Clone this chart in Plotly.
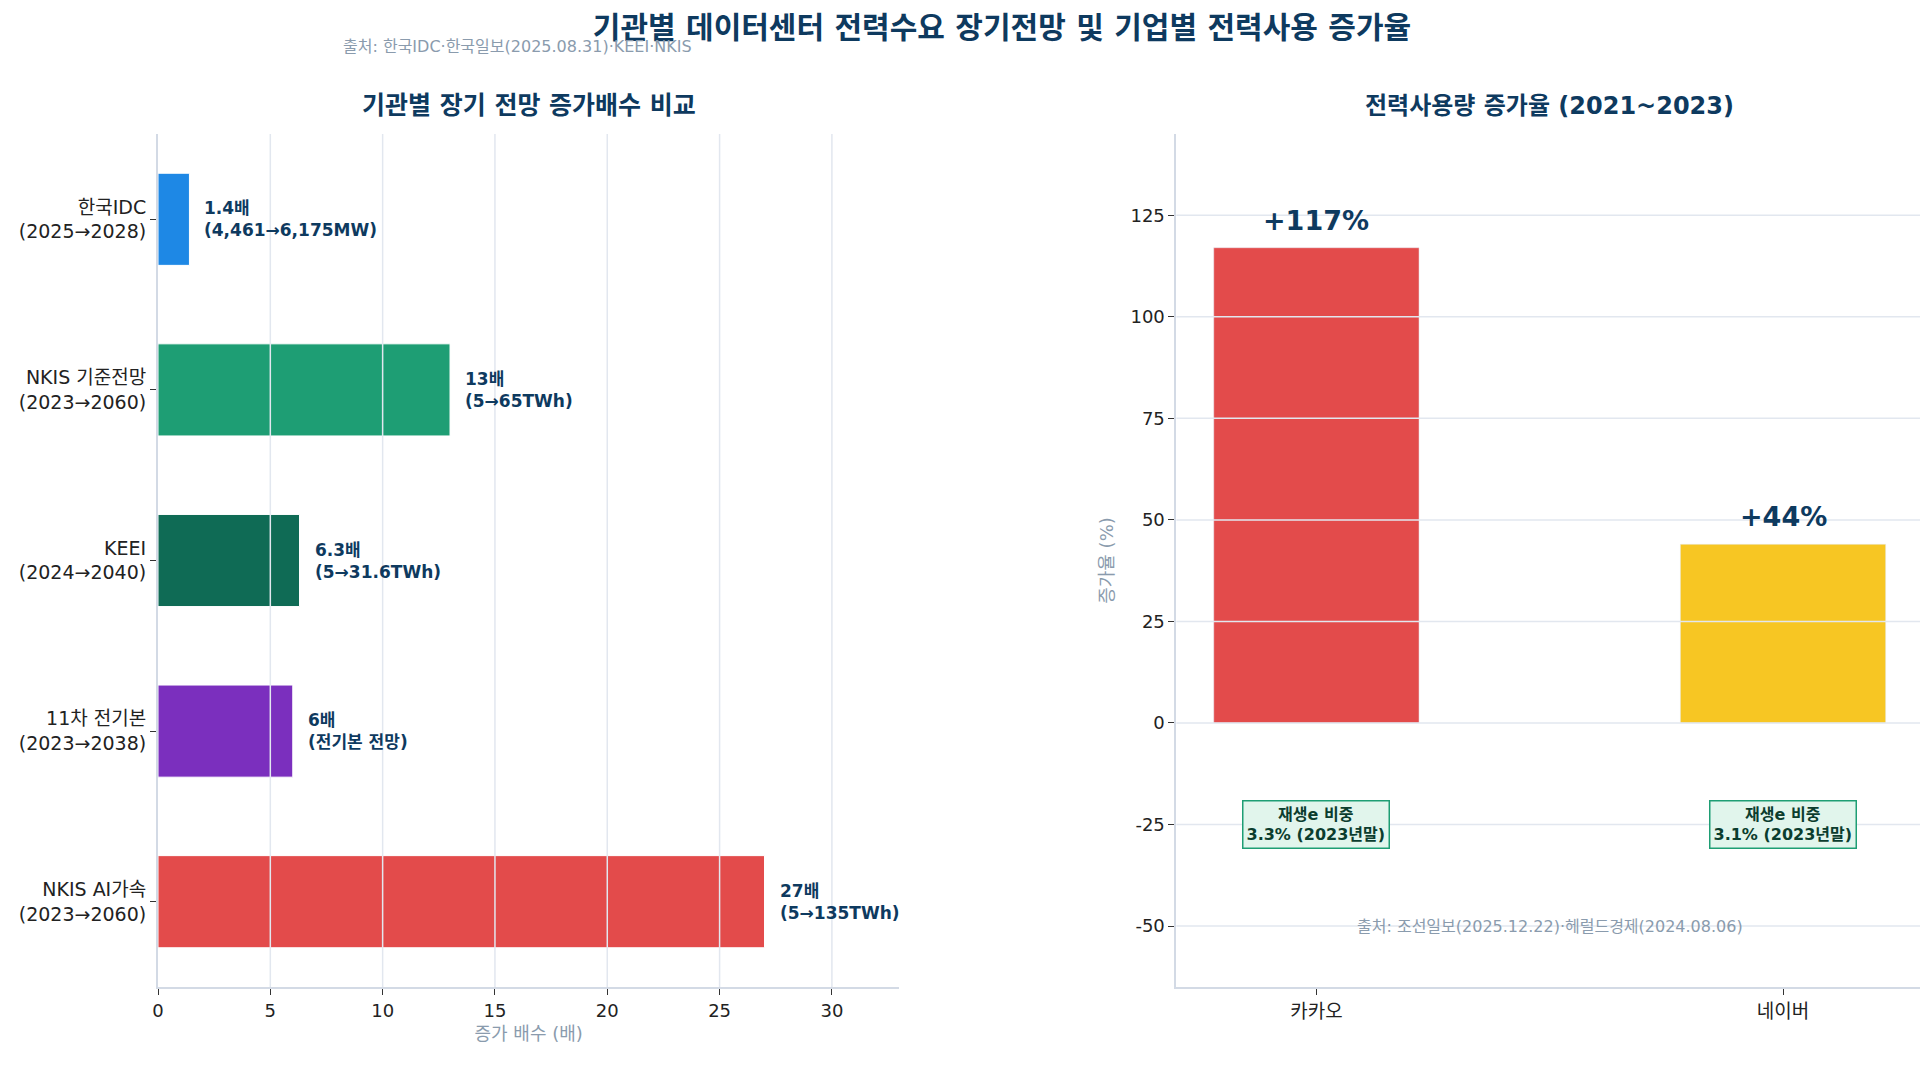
import plotly.graph_objects as go
from plotly.subplots import make_subplots

FONT = "DejaVu Sans, Noto Sans CJK KR"
NAVY = "#0E3A5F"
GRAY = "#8A9BAD"
GRID = "#E2E7EF"
AXIS = "#D3DAE5"

# 기관별 장기 전망
agencies = [
    "한국IDC<br>(2025→2028)",
    "NKIS 기준전망<br>(2023→2060)",
    "KEEI<br>(2024→2040)",
    "11차 전기본<br>(2023→2038)",
    "NKIS AI가속<br>(2023→2060)",
]
multiples = [1.4, 13, 6.3, 6, 27]
multiple_labels = [
    "1.4배<br>(4,461→6,175MW)",
    "13배<br>(5→65TWh)",
    "6.3배<br>(5→31.6TWh)",
    "6배<br>(전기본 전망)",
    "27배<br>(5→135TWh)",
]
agency_colors = ["#1E88E5", "#1E9E74", "#0F6B55", "#7B2FBE", "#E34B4B"]
x_ticks = [0, 5, 10, 15, 20, 25, 30]

# 기업별 전력사용 증가율
companies = ["카카오", "네이버"]
growth = [117, 44]
growth_labels = ["+117%", "+44%"]
company_colors = ["#E34B4B", "#F7C623"]
renew_labels = ["재생e 비중<br>3.3% (2023년말)", "재생e 비중<br>3.1% (2023년말)"]
renew_y = -25
y_ticks = [-50, -25, 0, 25, 50, 75, 100, 125]

fig = make_subplots(rows=1, cols=2, horizontal_spacing=0.157)

fig.add_trace(
    go.Bar(
        orientation="h",
        y=agencies,
        x=multiples,
        width=0.54,
        marker={"color": agency_colors, "line": {"color": "white", "width": 1}},
        hoverinfo="skip",
    ),
    row=1,
    col=1,
)

fig.add_trace(
    go.Bar(
        x=companies,
        y=growth,
        width=0.44,
        marker={"color": company_colors},
        hoverinfo="skip",
    ),
    row=1,
    col=2,
)

# gridlines drawn over the bars, like the original
for v in x_ticks[1:]:
    fig.add_vline(x=v, row=1, col=1, layer="above", line={"color": GRID, "width": 1.5})
for v in y_ticks:
    fig.add_hline(y=v, row=1, col=2, layer="above", line={"color": GRID, "width": 1.5})

# value labels next to horizontal bars
for cat, val, lab in zip(agencies, multiples, multiple_labels):
    fig.add_annotation(
        x=val, y=cat, xref="x", yref="y",
        text=f"<b>{lab}</b>", showarrow=False,
        xanchor="left", align="left", xshift=13,
        font={"size": 17, "color": NAVY, "family": FONT},
    )

# growth labels above bars
for comp, val, lab in zip(companies, growth, growth_labels):
    fig.add_annotation(
        x=comp, y=val, xref="x2", yref="y2",
        text=f"<b>{lab}</b>", showarrow=False,
        yanchor="bottom", yshift=10,
        font={"size": 27, "color": NAVY, "family": FONT},
    )

# renewable share boxes
for comp, lab in zip(companies, renew_labels):
    fig.add_annotation(
        x=comp, y=renew_y, xref="x2", yref="y2",
        text=f"<b>{lab}</b>", showarrow=False,
        bgcolor="#E1F5EC", bordercolor="#1E9E74", borderwidth=1.5, borderpad=3,
        font={"size": 16, "color": "#0B3D2E", "family": FONT},
    )

fig.add_annotation(
    x=0.5, y=-50, xref="x2 domain", yref="y2",
    text="출처: 조선일보(2025.12.22)·헤럴드경제(2024.08.06)", showarrow=False,
    font={"size": 16, "color": GRAY, "family": FONT},
)

# subplot titles
fig.add_annotation(
    x=0.21, y=1.033, xref="paper", yref="paper",
    xanchor="center", yanchor="middle",
    text="<b>기관별 장기 전망 증가배수 비교</b>", showarrow=False,
    font={"size": 25, "color": NAVY, "family": FONT},
)
fig.add_annotation(
    x=0.7885, y=1.033, xref="paper", yref="paper",
    xanchor="center", yanchor="middle",
    text="<b>전력사용량 증가율 (2021~2023)</b>", showarrow=False,
    font={"size": 24, "color": NAVY, "family": FONT},
)

# source line under main title
fig.add_annotation(
    x=0.2034, y=1.103, xref="paper", yref="paper",
    xanchor="center", yanchor="middle",
    text="출처: 한국IDC·한국일보(2025.08.31)·KEEI·NKIS", showarrow=False,
    font={"size": 16, "color": GRAY, "family": FONT},
)

fig.update_xaxes(
    row=1, col=1,
    domain=[0, 0.42],
    range=[0, 33], tickvals=x_ticks, showgrid=False, zeroline=False,
    showline=True, linecolor=AXIS, linewidth=2,
    ticks="outside", ticklen=6, tickcolor="#333333",
    tickfont={"size": 18, "color": "#222222"},
    title={"text": "증가 배수 (배)", "font": {"size": 18, "color": GRAY}, "standoff": 8},
)
fig.update_yaxes(
    row=1, col=1,
    autorange="reversed", showgrid=False, zeroline=False,
    showline=True, linecolor=AXIS, linewidth=2,
    ticks="outside", ticklen=6, tickcolor="#333333",
    tickfont={"size": 19, "color": "#222222"},
)
fig.update_xaxes(
    row=1, col=2,
    domain=[0.577, 1],
    range=[-0.3, 1.3], showgrid=False, zeroline=False,
    showline=True, linecolor=AXIS, linewidth=2,
    ticks="outside", ticklen=6, tickcolor="#333333",
    tickfont={"size": 19, "color": "#222222"},
)
fig.update_yaxes(
    row=1, col=2,
    range=[-65, 145], tickvals=y_ticks, ticktext=[str(v) for v in y_ticks],
    showgrid=False, zeroline=False,
    showline=True, linecolor=AXIS, linewidth=2,
    ticks="outside", ticklen=6, tickcolor="#333333",
    tickfont={"size": 18, "color": "#222222"},
    title={"text": "증가율 (%)", "font": {"size": 18, "color": GRAY}, "standoff": 12},
)

fig.update_layout(
    width=1920,
    height=1057,
    margin={"l": 150, "r": 5, "t": 126, "b": 78},
    paper_bgcolor="white",
    plot_bgcolor="white",
    showlegend=False,
    font={"family": FONT, "color": "#222222"},
    title={
        "text": "<b>기관별 데이터센터 전력수요 장기전망 및 기업별 전력사용 증가율</b>",
        "x": 0.5177, "xanchor": "center",
        "y": 0.982, "yanchor": "middle",
        "font": {"size": 30, "color": NAVY, "family": FONT},
    },
)

fig.write_html("out.html")
